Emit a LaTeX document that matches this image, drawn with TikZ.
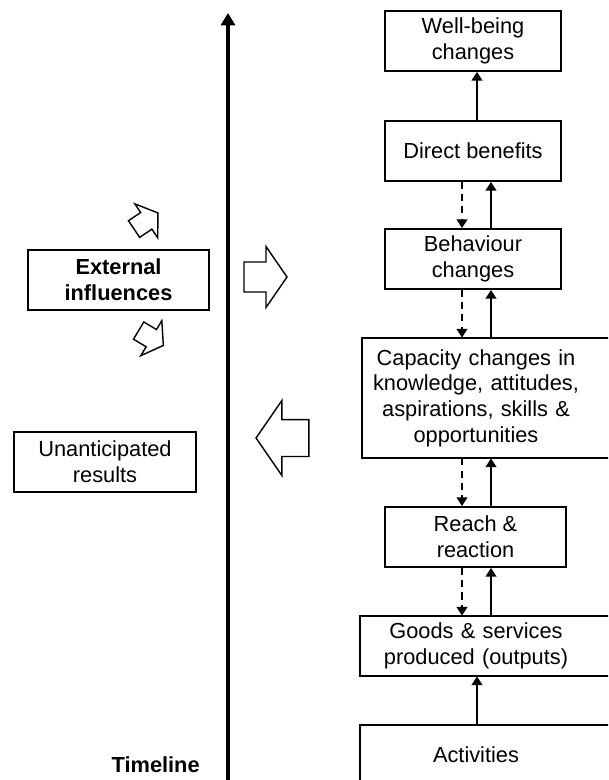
\documentclass[tikz,border=0pt]{standalone}
\usepackage{fontspec}
\setmainfont{Liberation Sans}
\usetikzlibrary{arrows.meta}
\newcommand{\boxfont}{\fontsize{12.4}{14.6}\selectfont}
\tikzset{
	box/.style={draw,line width=1pt,align=center,minimum width=3.52cm,minimum height=1.2cm,inner sep=2pt,font=\boxfont},
	widebox/.style={align=center,inner xsep=0pt,minimum height=1.2cm,font=\boxfont},
	boxline/.style={line width=1pt},
	solidup/.style={-{Triangle[width=6pt,length=5pt]},line width=1.3pt},
	dashdown/.style={solidup,dash pattern=on 4pt off 3pt},
	timeaxis/.style={-{Triangle[width=8pt,length=7pt]},line width=2pt},
	blockarrow/.pic={\draw[line width=0.8pt,line join=miter] (-21.5,-15) -- (0.5,-15) -- (0.5,-30.5) -- (21.5,0) -- (0.5,30.5) -- (0.5,15) -- (-21.5,15) -- cycle;}
}
\begin{document}
\begin{tikzpicture}[x=0.02cm,y=-0.02cm]
	\useasboundingbox (0,0) rectangle (608,780);
	\clip (0,0) rectangle (608,780);
	% right column
	\node[box] (wellbeing) at (473,41) {Well-being\\changes};
	\node[box] (direct) at (473,151) {Direct benefits};
	\node[box] (behaviour) at (473,259) {Behaviour\\changes};
	\node[widebox,minimum height=2.4cm,text width=4.56cm] (capacity) at (476,398) {Capacity changes in\\knowledge, attitudes,\\aspirations, skills \&\\opportunities};
	\node[box,minimum width=3.62cm] (reach) at (475.5,537) {Reach \&\\reaction};
	\node[widebox,text width=4.64cm] (goods) at (476,646) {Goods \& services\\produced (outputs)};
	\node[widebox,text width=4.64cm] (activities) at (476,755) {Activities};
	\foreach \n in {capacity,goods,activities}
		\draw[boxline] ([xshift=1cm]\n.north east) -| (\n.south west) -- ([xshift=1cm]\n.south east);
	% left column
	\node[box,minimum width=3.62cm,font=\boxfont\bfseries] (external) at (118.5,280) {External\\influences};
	\node[box,minimum width=3.64cm] (unanticipated) at (105,462) {Unanticipated\\results};
	\node[font=\boxfont\bfseries,anchor=east,inner sep=0pt] (timeline) at (200,765) {Timeline};
	% timeline
	\coordinate (tl bottom) at (228,790);
	\coordinate (tl top) at (228,13);
	\draw[timeaxis] (tl bottom) -- (tl top);
	% links
	\coordinate (dn) at (462,0);
	\coordinate (up) at (491,0);
	\coordinate (mid) at (477,0);
	\draw[solidup] (direct.north -| mid) -- (wellbeing.south -| mid);
	\foreach \a/\b in {direct/behaviour,behaviour/capacity,capacity/reach,reach/goods}{
		\draw[dashdown] (\a.south -| dn) -- (\b.north -| dn);
		\draw[solidup] (\b.north -| up) -- (\a.south -| up);
	}
	\draw[solidup] (activities.north -| mid) -- (goods.south -| mid);
	% block arrows
	\pic at (265.5,277) {blockarrow};
	\pic[rotate=180,scale=1.23] at (282.5,438) {blockarrow};
	\pic[rotate=34,scale=0.67] at (146,221) {blockarrow};
	\pic[rotate=-31,scale=0.67] at (151,338) {blockarrow};
\end{tikzpicture}
\end{document}
